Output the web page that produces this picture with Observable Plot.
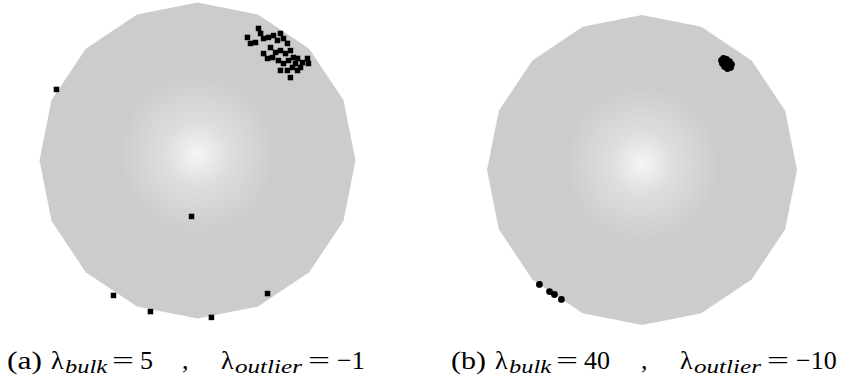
<!DOCTYPE html>
<html><head><meta charset="utf-8">
<script src="https://cdn.jsdelivr.net/npm/d3@7"></script>
<script src="https://cdn.jsdelivr.net/npm/@observablehq/plot@0.6"></script>
<style>
body{margin:0;background:#fff;}
#wrap{position:relative;width:849px;height:378px;overflow:hidden;}
#plots{display:flex;position:absolute;left:0;top:0;}
#plots svg{filter:blur(0.6px);}
#caps{position:absolute;left:0;top:330px;}
#caps text{font-family:"Liberation Serif";}
</style></head><body>
<div id="wrap"><div id="plots"></div><div id="caps"></div></div>
<script>
// 16-sided disk boundary: vertex angles (degrees) in upper half
const diskAngles = [0, 22.5, 45, 67.5, 90, 112.5, 135, 157.5, 180];

// panel (a): lambda_bulk = 5, lambda_outlier = -1
const aX = [-0.896, -0.041, -0.535, -0.301, 0.085, 0.440,
  0.313, 0.332, 0.383, 0.396, 0.364, 0.415, 0.446, 0.478, 0.522, 0.503, 0.541, 0.566,
  0.459, 0.491, 0.522, 0.554, 0.585, 0.604, 0.630, 0.661, 0.699, 0.649, 0.598, 0.566,
  0.585, 0.630, 0.509, 0.472, 0.541, 0.617, 0.693, 0.415, 0.440, 0.522, 0.573];
const aY = [0.453, -0.351, -0.851, -0.953, -0.990, -0.839,
  0.782, 0.744, 0.839, 0.807, 0.750, 0.775, 0.782, 0.794, 0.807, 0.763, 0.775, 0.744,
  0.718, 0.687, 0.699, 0.680, 0.699, 0.655, 0.649, 0.623, 0.617, 0.592, 0.592, 0.573,
  0.528, 0.573, 0.636, 0.655, 0.617, 0.617, 0.649, 0.680, 0.649, 0.573, 0.636];

// panel (b): lambda_bulk = 40, lambda_outlier = -10
const bX = [0.510, 0.523, 0.542, 0.561, 0.574, 0.568, 0.548, 0.529, 0.516, 0.542, 0.555,
  -0.665, -0.600, -0.568, -0.523];
const bY = [0.710, 0.723, 0.716, 0.703, 0.684, 0.665, 0.658, 0.671, 0.690, 0.690, 0.684,
  -0.735, -0.781, -0.800, -0.832];

// caption texts
const capLabels = ["(a)", "(b)"];
const capBulk = ["5", "40"];
const capOutlier = ["\u22121", "\u221210"];

const poly = diskAngles.map(a => {
  const t = a * Math.PI / 180;
  return {x: Math.cos(t), lo: -Math.sin(t), hi: Math.sin(t)};
}).sort((p, q) => p.x - q.x);

function panel(id, xs, ys, symbol, r, m) {
  const pts = xs.map((x, i) => ({x, y: ys[i]}));
  const defs = () => {
    const d = d3.create("svg:defs");
    const g = d.append("radialGradient").attr("id", "grad" + id)
      .attr("cx", 0.5).attr("cy", 0.48).attr("r", 0.25);
    g.append("stop").attr("offset", 0).attr("stop-color", "#f5f5f5");
    g.append("stop").attr("offset", 0.4).attr("stop-color", "#dedede");
    g.append("stop").attr("offset", 1).attr("stop-color", "#cccccc");
    return d.node();
  };
  return Plot.plot({
    width: m.width, height: 330,
    marginLeft: m.l, marginRight: m.r, marginTop: m.t, marginBottom: m.b,
    x: {domain: [-1, 1], axis: null},
    y: {domain: [-1, 1], axis: null},
    marks: [
      defs,
      Plot.areaY(poly, {x: "x", y1: "lo", y2: "hi", fill: `url(#grad${id})`}),
      Plot.dot(pts, {x: "x", y: "y", symbol, r, fill: "black", stroke: "none"})
    ]
  });
}

const host = document.getElementById("plots");
host.append(panel("A", aX, aY, "square", 3.1, {width: 424, l: 39.5, r: 68.5, t: 2.5, b: 11.5}));
host.append(panel("B", bX, bY, "circle", 3.4, {width: 425, l: 63, r: 52, t: 15, b: 5}));

// captions (layout of pieces along the baseline)
const csvg = d3.create("svg").attr("width", 849).attr("height", 48);
const starts = [8, 452];
capLabels.forEach((lab, i) => {
  const x0 = starts[i];
  const extra = i === 0 ? 0 : 15; // wider bulk value
  const g = csvg.append("g").attr("transform", `translate(${x0},39)`);
  const put = (txt, x, opt = {}) => {
    const t = g.append("text").attr("x", x).text(txt)
      .attr("font-size", opt.sub ? 19 : 26);
    if (opt.sub) t.attr("font-style", "italic").attr("y", 4);
    if (opt.w) t.attr("textLength", opt.w).attr("lengthAdjust", "spacingAndGlyphs");
    return t;
  };
  put(lab, -1, {w: 35});
  put("\u03bb", 43);
  put("bulk", 57, {sub: true, w: 42});
  put("=", 104, {w: 22});
  put(capBulk[i], 132);
  put(",", 174 + extra);
  put("\u03bb", 213 + extra);
  put("outlier", 227 + extra, {sub: true, w: 67});
  put("=", 300 + extra, {w: 22});
  put(capOutlier[i], 329 + extra);
});
document.getElementById("caps").append(csvg.node());
</script>
</body></html>
